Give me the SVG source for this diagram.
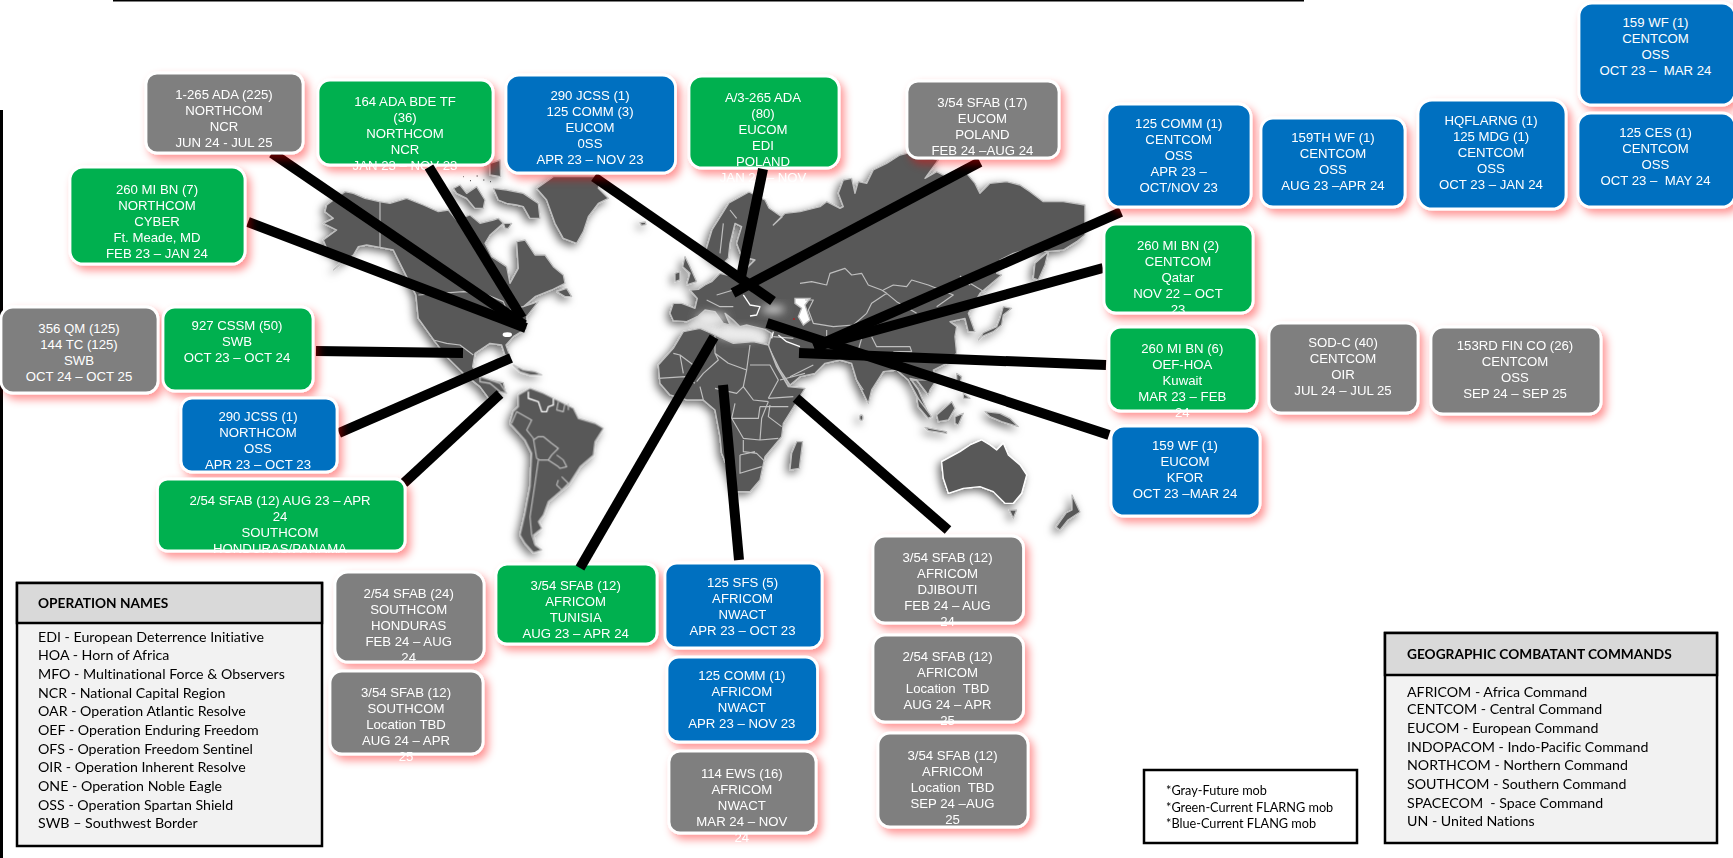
<svg xmlns="http://www.w3.org/2000/svg" width="1733" height="858" viewBox="0 0 1733 858">
<style>
text{font-family:"Liberation Sans",Arial,sans-serif;white-space:pre}
.n rect{stroke:#fff;stroke-width:2.8;filter:url(#pink)}
.g rect{fill:#00b050}.b rect{fill:#0070c0}.y rect{fill:#7f7f7f}
.n text{font-size:13.2px;fill:#fff;text-anchor:middle}
.land{fill:#595959;stroke:#bfbfbf;stroke-width:4;stroke-linejoin:round}
.bd{fill:none;stroke:#bfbfbf;stroke-width:3.5;stroke-linejoin:round}
.wb{fill:none;stroke:#fff;stroke-width:4;stroke-linejoin:round}
.con line{stroke:#000;stroke-width:10}
.panel text{font-family:Lato,"Liberation Sans",sans-serif;font-size:14.2px;fill:#000;font-variant-ligatures:none}
.panel .h{font-weight:700;font-size:13.7px}
.box{stroke:#000;stroke-width:2.5}
</style>
<defs>
<filter id="pink" x="-20%" y="-20%" width="150%" height="160%"><feDropShadow dx="4" dy="5" stdDeviation="4" flood-color="#ff0000" flood-opacity=".42"/></filter>
<filter id="mapsh" x="-5%" y="-5%" width="110%" height="110%"><feDropShadow dx="-3" dy="3" stdDeviation="4" flood-color="#000" flood-opacity=".6"/></filter>
<filter id="soft" x="-50%" y="-100%" width="200%" height="300%"><feGaussianBlur stdDeviation="12"/></filter>
</defs>

<line x1="113" y1="0.5" x2="1304" y2="0.5" stroke="#000" stroke-width="2"/>
<rect x="0" y="110" width="3" height="748" fill="#000"/>

<g id="map">
<g filter="url(#mapsh)">
<g transform="translate(290,160) scale(.3333)">
<path class="land" d="M110,135 L165,95 L190,100 L225,115 L268,125 L300,130 L350,115 L400,135 L445,155 L475,150 L500,180 L540,165 L570,190 L610,180 L625,175 L640,190 L600,225 L585,250 L605,290 L650,320 L660,370 L685,325 L680,245 L705,240 L735,285 L765,285 L790,320 L820,345 L825,370 L785,390 L735,410 L700,440 L745,425 L710,470 L710,505 L670,530 L648,555 L660,590 L645,585 L635,555 L600,550 L555,580 L548,620 L565,650 L600,660 L640,668 L645,690 L620,700 L600,720 L570,680 L520,640 L470,590 L435,545 L385,475 L378,405 L350,350 L310,270 L270,262 L230,255 L205,260 L190,285 L130,330 L160,300 L110,265 L100,240 L140,210 L100,190 L130,175 L105,155 Z"/>
<path class="land" d="M490,85 L510,75 L530,100 L560,80 L585,120 L580,145 L555,145 L530,115 L500,100Z"/>
<path class="land" d="M610,85 L650,90 L700,100 L745,130 L750,175 L720,175 L700,140 L680,135 L650,130 L625,120Z"/>
<path class="land" d="M640,190 L665,190 L655,205 L645,205Z"/>
<path class="land" d="M800,395 L830,385 L845,410 L825,410Z"/>
<path class="land" d="M600,10 L630,0 L632,50 L600,45Z"/>
<path class="land" d="M740,85 L790,50 L930,50 L925,85 L955,115 L925,130 L895,170 L880,215 L860,250 L820,235 L795,190 L770,120 Z"/>
<path class="bd" d="M270,125 L270,262"/>
<path class="bd" d="M385,405 L520,395 L580,400 L640,425 L650,450 L700,440"/>
<path class="bd" d="M430,540 L470,550 L510,555 L550,585"/>
<ellipse cx="652" cy="524" rx="14" ry="7" fill="#fff"/>
<path d="M520,50h2M540,62h3M560,48h3M580,60h3M600,65h3" stroke="#595959" stroke-width="4"/>
</g>
<g transform="translate(480,360) scale(.3333)">
<path class="land" d="M100,15 L130,30 L165,35 L185,45 L150,45 L120,35Z"/>
<path class="land" d="M0,50 L30,60 L60,70 L80,100 L60,95 L30,70 L0,65Z"/>
<path class="land" d="M115,105 L150,85 L190,100 L220,115 L250,130 L280,145 L295,175 L345,190 L370,205 L345,245 L340,285 L300,320 L265,375 L240,395 L205,425 L190,465 L175,485 L185,505 L160,525 L165,555 L185,570 L160,578 L135,550 L120,525 L135,460 L150,380 L155,280 L135,240 L90,190 L100,155 L115,140Z"/>
<path class="wb" d="M145,95 L145,115 L175,125 L185,155 L200,155 L205,140 L220,135 L220,115"/>
<path class="bd" d="M235,125 L230,150 L250,155 L255,130 M265,130 L265,150 M95,190 L110,155 L155,180 L140,210 L160,235 L165,265 L170,295 L180,300 L205,300 L215,285 L235,265 L215,250 L190,230 L175,230 L160,240 M175,300 L165,370 L150,470 L155,525 L165,555 M205,300 L235,320 L240,325 L260,320 L250,300 L230,285 M235,360 L230,375 L245,390 L265,370 L245,350"/>
</g>
<g transform="translate(640,210) scale(.3333)">
<path class="land" d="M100,280 L125,280 L165,295 L172,265 L150,240 L175,238 L195,225 L215,215 L235,195 L240,190 L262,195 L290,195 L320,175 L345,150 L305,140 L290,100 L305,50 L285,40 L270,100 L265,145 L245,165 L225,150 L198,120 L216,60 L267,-21 L327,-54 L375,-30 L387,-6 L426,21 L400,45 L435,10 L480,5 L540,-10 L560,-25 L600,-5 L610,-10 L595,-50 L610,-90 L635,-95 L645,-50 L655,-85 L680,-80 L700,-120 L740,-140 L780,-165 L820,-175 L895,-150 L855,-95 L890,-115 L920,-100 L980,-110 L1005,-80 L1020,-50 L1050,-80 L1100,-85 L1140,-75 L1170,-55 L1210,-25 L1270,-25 L1335,-15 L1335,75 L1310,95 L1270,120 L1220,125 L1190,110 L1120,130 L1080,150 L1070,190 L1085,195 L1020,250 L985,310 L1005,365 L985,365 L975,325 L930,335 L950,350 L945,380 L950,430 L920,460 L880,480 L890,510 L870,540 L865,555 L830,510 L810,505 L835,540 L865,610 L835,565 L805,510 L770,480 L730,485 L695,540 L685,580 L650,510 L635,460 L600,450 L555,460 L525,490 L480,500 L450,525 L420,480 L395,430 L385,410 L395,370 L375,358 L340,350 L320,345 L300,350 L280,330 L255,310 L270,345 L250,340 L225,305 L195,300 L175,318 L140,335 L100,332 L90,310 Z"/>
<path class="land" d="M130,365 L180,355 L225,375 L280,400 L340,395 L385,405 L410,470 L445,530 L495,535 L465,585 L430,640 L425,680 L375,740 L360,810 L330,845 L290,845 L270,790 L245,730 L240,680 L225,600 L190,570 L140,570 L90,555 L60,520 L55,465 L100,415 Z"/>
<path class="land" d="M135,140 L150,170 L170,215 L140,225 L150,190 L128,170Z"/>
<path class="land" d="M105,190 L120,185 L120,210 L105,215Z"/>
<path class="land" d="M470,695 L488,695 L478,775 L450,780 L455,730 Z"/>
<path class="land" d="M0,38 L16,36 L18,44 L4,46Z"/>
<ellipse class="land" cx="664" cy="623" rx="5" ry="8"/>
<path class="land" d="M1180,205 L1185,160 L1225,125 L1215,165 L1195,210Z"/>
<path class="land" d="M1015,390 L1030,368 L1070,350 L1080,325 L1090,290 L1115,295 L1090,315 L1085,345 L1060,365 L1025,380Z"/>
<path class="land" d="M890,615 L935,575 L945,595 L925,630 L895,635Z"/>
<path class="land" d="M830,560 L875,620 L865,625 L835,590Z"/>
<path class="land" d="M855,652 L920,665 L920,670 L865,662Z"/>
<path class="land" d="M945,620 L970,610 L955,645 L945,640Z"/>
<path class="land" d="M1035,605 L1080,610 L1110,625 L1135,650 L1085,635 L1050,620Z"/>
<path class="land" d="M950,490 L965,500 L960,520 L950,510Z"/>
<path class="land" d="M970,550 L990,565 L970,565Z"/>
<path d="M465,265 L510,265 L495,285 L510,330 L490,345 L475,320 L485,295 L465,280Z" fill="#fff" stroke="#bfbfbf" stroke-width="4"/>
<path class="bd" d="M100,430 L120,435 L160,465 M120,435 L130,490 M55,505 L135,500 L165,520 M225,375 L225,430 L265,460 M225,430 L235,450 L190,490 L170,515 M265,460 L320,480 L310,530 L290,550 L225,535 M320,480 L330,405 M330,465 L390,465 L415,510 L385,565 M310,530 L340,570 L385,575 M180,530 L190,570 M285,580 L275,625 L355,625 L360,590 M385,575 L365,625 L360,690 M360,590 L445,590 M390,585 L385,620 L425,650 M275,625 L310,685 L360,690 L415,685 M310,690 L310,725 L350,730 L375,755 M300,735 L300,790 L365,770 M300,735 L345,725 M420,510 L495,490 M385,565 L460,560"/>
<path class="bd" d="M480,220 L515,215 L560,225 L570,190 L615,175 L635,195 L665,190 L685,225 L725,240 L740,250 M730,240 L760,225 L800,230 L815,210 L865,225 L940,255 L890,290 M740,250 L695,280 L680,310 L640,345 L580,350 L520,340 L505,300 L520,270 L495,270 M740,250 L770,275 L830,310 M560,360 L560,385 M665,385 L655,420 M695,380 L710,410 L810,410 L815,425 L760,425 M990,220 L1040,250 M960,198 L990,225"/>
<path class="bd" d="M650,510 L670,540 M810,510 L890,510 M820,495 L880,490 M520,465 L450,500 M400,380 L460,385 M230,255 L280,240 M200,270 L240,290 L280,290 M240,130 L250,40 M290,25 L270,0"/>
<path class="wb" d="M310,255 L330,285 L360,290 L350,315 L330,318 M400,365 L395,385 M415,375 L440,395 L480,410"/>
<ellipse cx="300" cy="372" rx="70" ry="14" fill="#f4f4f4" filter="url(#soft)"/>
<ellipse cx="215" cy="325" rx="45" ry="14" fill="#f4f4f4" filter="url(#soft)"/>
<ellipse cx="400" cy="298" rx="35" ry="10" fill="#e8e8e8" filter="url(#soft)"/>
<rect x="460" y="325" width="4" height="4" fill="#e00000"/>
</g>
<g transform="translate(800,150) scale(.3333)">
<path class="land" style="stroke:#fff" d="M425,935 L480,905 L510,885 L545,870 L570,885 L590,900 L610,880 L625,915 L660,945 L680,975 L665,1030 L640,1060 L615,1060 L580,1025 L540,1010 L490,1015 L445,1030 L430,985Z"/>
<path class="land" d="M628,1080 L650,1080 L640,1105Z"/>
</g>
<path class="land" style="stroke-width:1.3" d="M1072,495 L1080,512 L1068,520 L1060,530 L1056,527 L1066,513 L1072,510Z"/>
</g>
</g>

<g id="n-tunisia" class="n g"><rect x="496" y="564" width="161" height="80" rx="11"/><text y="590"><tspan x="575.7">3/54 SFAB (12)</tspan><tspan x="575.7" dy="16">AFRICOM</tspan><tspan x="575.7" dy="16">TUNISIA</tspan><tspan x="575.7" dy="16">AUG 23 – APR 24</tspan></text></g>
<g id="n-164ada" class="n g"><rect x="318" y="80" width="175" height="85" rx="12"/><text y="106"><tspan x="405">164 ADA BDE TF</tspan><tspan x="405" dy="16">(36)</tspan><tspan x="405" dy="16">NORTHCOM</tspan><tspan x="405" dy="16">NCR</tspan><tspan x="405" dy="16">JAN 23 – NOV 23</tspan></text></g>
<g id="n-a3265" class="n g"><rect x="689" y="76" width="150" height="92" rx="13"/><text y="102"><tspan x="763">A/3-265 ADA</tspan><tspan x="763" dy="16">(80)</tspan><tspan x="763" dy="16">EUCOM</tspan><tspan x="763" dy="16">EDI</tspan><tspan x="763" dy="16">POLAND</tspan><tspan x="763" dy="16">JAN 23 – NOV</tspan><tspan x="763" dy="16">23</tspan></text></g>

<g id="connectors" class="con">
<line x1="272" y1="153" x2="524" y2="325"/>
<line x1="429" y1="167" x2="522" y2="318"/>
<line x1="248" y1="222" x2="526" y2="328"/>
<line x1="316" y1="351" x2="463" y2="353"/>
<line x1="339" y1="433" x2="511" y2="358"/>
<line x1="404" y1="483" x2="500" y2="394"/>
<line x1="594" y1="177" x2="773" y2="301"/>
<line x1="763" y1="169" x2="741" y2="277"/>
<line x1="980" y1="162" x2="733" y2="293"/>
<line x1="1121" y1="212" x2="814" y2="347"/>
<line x1="1103" y1="268" x2="814" y2="347"/>
<line x1="1106" y1="365" x2="799" y2="353"/>
<line x1="1109" y1="435" x2="767" y2="323"/>
<line x1="580" y1="568" x2="714" y2="337"/>
<line x1="739" y1="560" x2="723" y2="385"/>
<line x1="948" y1="530" x2="796" y2="398"/>
</g>

<g id="n-1265ada" class="n y"><rect x="146" y="73" width="157" height="80" rx="11"/><text y="99"><tspan x="224">1-265 ADA (225)</tspan><tspan x="224" dy="16">NORTHCOM</tspan><tspan x="224" dy="16">NCR</tspan><tspan x="224" dy="16">JUN 24 - JUL 25</tspan></text></g>
<g id="n-260mi7" class="n g"><rect x="70" y="167" width="175" height="97" rx="13"/><text y="194"><tspan x="157">260 MI BN (7)</tspan><tspan x="157" dy="16">NORTHCOM</tspan><tspan x="157" dy="16">CYBER</tspan><tspan x="157" dy="16">Ft. Meade, MD</tspan><tspan x="157" dy="16">FEB 23 – JAN 24</tspan></text></g>
<g id="n-356qm" class="n y"><rect x="1" y="307" width="157" height="86" rx="12"/><text y="333"><tspan x="79">356 QM (125)</tspan><tspan x="79" dy="16">144 TC (125)</tspan><tspan x="79" dy="16">SWB</tspan><tspan x="79" dy="16">OCT 24 – OCT 25</tspan></text></g>
<g id="n-927cssm" class="n g"><rect x="163" y="307" width="150" height="84" rx="12"/><text y="330"><tspan x="237">927 CSSM (50)</tspan><tspan x="237" dy="16">SWB</tspan><tspan x="237" dy="16">OCT 23 – OCT 24</tspan></text></g>
<g id="n-290north" class="n b"><rect x="181" y="398" width="156" height="74" rx="11"/><text y="421"><tspan x="258">290 JCSS (1)</tspan><tspan x="258" dy="16">NORTHCOM</tspan><tspan x="258" dy="16">OSS</tspan><tspan x="258" dy="16">APR 23 – OCT 23</tspan></text></g>
<g id="n-254south" class="n g"><rect x="157.500" y="479" width="247.500" height="72" rx="10"/><text y="505"><tspan x="280">2/54 SFAB (12) AUG 23 – APR</tspan><tspan x="280" dy="16">24</tspan><tspan x="280" dy="16">SOUTHCOM</tspan><tspan x="280" dy="16">HONDURAS/PANAMA</tspan></text></g>
<g id="n-290eu" class="n b"><rect x="506" y="75" width="169.500" height="98" rx="13"/><text y="100"><tspan x="590">290 JCSS (1)</tspan><tspan x="590" dy="16">125 COMM (3)</tspan><tspan x="590" dy="16">EUCOM</tspan><tspan x="590" dy="16">0SS</tspan><tspan x="590" dy="16">APR 23 – NOV 23</tspan></text></g>
<g id="n-354poland" class="n y"><rect x="907" y="81" width="152" height="77" rx="11"/><text y="107"><tspan x="982.400">3/54 SFAB (17)</tspan><tspan x="982.400" dy="16">EUCOM</tspan><tspan x="982.400" dy="16">POLAND</tspan><tspan x="982.400" dy="16">FEB 24 –AUG 24</tspan></text></g>
<g id="n-159cent" class="n b"><rect x="1579" y="3" width="156" height="102" rx="13"/><text y="27"><tspan x="1655.500">159 WF (1)</tspan><tspan x="1655.500" dy="16">CENTCOM</tspan><tspan x="1655.500" dy="16">OSS</tspan><tspan x="1655.500" dy="16">OCT 23 –  MAR 24</tspan></text></g>
<g id="n-125comm" class="n b"><rect x="1107" y="104" width="144" height="103" rx="13"/><text y="128"><tspan x="1178.700">125 COMM (1)</tspan><tspan x="1178.700" dy="16">CENTCOM</tspan><tspan x="1178.700" dy="16">OSS</tspan><tspan x="1178.700" dy="16">APR 23 –</tspan><tspan x="1178.700" dy="16">OCT/NOV 23</tspan></text></g>
<g id="n-159th" class="n b"><rect x="1261" y="118" width="144" height="89" rx="12"/><text y="142"><tspan x="1333">159TH WF (1)</tspan><tspan x="1333" dy="16">CENTCOM</tspan><tspan x="1333" dy="16">OSS</tspan><tspan x="1333" dy="16">AUG 23 –APR 24</tspan></text></g>
<g id="n-hqflarng" class="n b"><rect x="1418" y="100" width="148" height="109" rx="14"/><text y="125"><tspan x="1491">HQFLARNG (1)</tspan><tspan x="1491" dy="16">125 MDG (1)</tspan><tspan x="1491" dy="16">CENTCOM</tspan><tspan x="1491" dy="16">OSS</tspan><tspan x="1491" dy="16">OCT 23 – JAN 24</tspan></text></g>
<g id="n-125ces" class="n b"><rect x="1578" y="113" width="157" height="94" rx="13"/><text y="137"><tspan x="1655.500">125 CES (1)</tspan><tspan x="1655.500" dy="16">CENTCOM</tspan><tspan x="1655.500" dy="16">OSS</tspan><tspan x="1655.500" dy="16">OCT 23 –  MAY 24</tspan></text></g>
<g id="n-260q" class="n g"><rect x="1104" y="224" width="149" height="89" rx="12"/><text y="250"><tspan x="1178">260 MI BN (2)</tspan><tspan x="1178" dy="16">CENTCOM</tspan><tspan x="1178" dy="16">Qatar</tspan><tspan x="1178" dy="16">NOV 22 – OCT</tspan><tspan x="1178" dy="16">23</tspan></text></g>
<g id="n-260k" class="n g"><rect x="1109" y="327" width="148" height="84" rx="12"/><text y="353"><tspan x="1182.300">260 MI BN (6)</tspan><tspan x="1182.300" dy="16">OEF-HOA</tspan><tspan x="1182.300" dy="16">Kuwait</tspan><tspan x="1182.300" dy="16">MAR 23 – FEB</tspan><tspan x="1182.300" dy="16">24</tspan></text></g>
<g id="n-sodc" class="n y"><rect x="1269" y="323" width="149" height="90" rx="12"/><text y="347"><tspan x="1343">SOD-C (40)</tspan><tspan x="1343" dy="16">CENTCOM</tspan><tspan x="1343" dy="16">OIR</tspan><tspan x="1343" dy="16">JUL 24 – JUL 25</tspan></text></g>
<g id="n-153fin" class="n y"><rect x="1431" y="327" width="170" height="87" rx="12"/><text y="350"><tspan x="1515">153RD FIN CO (26)</tspan><tspan x="1515" dy="16">CENTCOM</tspan><tspan x="1515" dy="16">OSS</tspan><tspan x="1515" dy="16">SEP 24 – SEP 25</tspan></text></g>
<g id="n-159eu" class="n b"><rect x="1111" y="426" width="149" height="90" rx="13"/><text y="450"><tspan x="1185">159 WF (1)</tspan><tspan x="1185" dy="16">EUCOM</tspan><tspan x="1185" dy="16">KFOR</tspan><tspan x="1185" dy="16">OCT 23 –MAR 24</tspan></text></g>
<g id="n-254hond" class="n y"><rect x="335" y="572" width="149" height="90" rx="13"/><text y="598"><tspan x="408.700">2/54 SFAB (24)</tspan><tspan x="408.700" dy="16">SOUTHCOM</tspan><tspan x="408.700" dy="16">HONDURAS</tspan><tspan x="408.700" dy="16">FEB 24 – AUG</tspan><tspan x="408.700" dy="16">24</tspan></text></g>
<g id="n-354south" class="n y"><rect x="330" y="671" width="153" height="83" rx="12"/><text y="697"><tspan x="406">3/54 SFAB (12)</tspan><tspan x="406" dy="16">SOUTHCOM</tspan><tspan x="406" dy="16">Location TBD</tspan><tspan x="406" dy="16">AUG 24 – APR</tspan><tspan x="406" dy="16">25</tspan></text></g>
<g id="n-125sfs" class="n b"><rect x="665" y="563" width="157" height="85" rx="12"/><text y="587"><tspan x="742.500">125 SFS (5)</tspan><tspan x="742.500" dy="16">AFRICOM</tspan><tspan x="742.500" dy="16">NWACT</tspan><tspan x="742.500" dy="16">APR 23 – OCT 23</tspan></text></g>
<g id="n-125af" class="n b"><rect x="667" y="657" width="150.500" height="85" rx="12"/><text y="680"><tspan x="741.800">125 COMM (1)</tspan><tspan x="741.800" dy="16">AFRICOM</tspan><tspan x="741.800" dy="16">NWACT</tspan><tspan x="741.800" dy="16">APR 23 – NOV 23</tspan></text></g>
<g id="n-114ews" class="n y"><rect x="669" y="751" width="147" height="82" rx="11"/><text y="778"><tspan x="741.800">114 EWS (16)</tspan><tspan x="741.800" dy="16">AFRICOM</tspan><tspan x="741.800" dy="16">NWACT</tspan><tspan x="741.800" dy="16">MAR 24 – NOV</tspan><tspan x="741.800" dy="16">24</tspan></text></g>
<g id="n-djib" class="n y"><rect x="873" y="536" width="150.500" height="87" rx="12"/><text y="562"><tspan x="947.500">3/54 SFAB (12)</tspan><tspan x="947.500" dy="16">AFRICOM</tspan><tspan x="947.500" dy="16">DJIBOUTI</tspan><tspan x="947.500" dy="16">FEB 24 – AUG</tspan><tspan x="947.500" dy="16">24</tspan></text></g>
<g id="n-254af" class="n y"><rect x="873" y="635" width="150.500" height="87" rx="12"/><text y="660.700"><tspan x="947.500">2/54 SFAB (12)</tspan><tspan x="947.500" dy="16">AFRICOM</tspan><tspan x="947.500" dy="16">Location  TBD</tspan><tspan x="947.500" dy="16">AUG 24 – APR</tspan><tspan x="947.500" dy="16">25</tspan></text></g>
<g id="n-354af" class="n y"><rect x="878" y="733" width="150" height="94" rx="12"/><text y="760"><tspan x="952.500">3/54 SFAB (12)</tspan><tspan x="952.500" dy="16">AFRICOM</tspan><tspan x="952.500" dy="16">Location  TBD</tspan><tspan x="952.500" dy="16">SEP 24 –AUG</tspan><tspan x="952.500" dy="16">25</tspan></text></g>

<g id="operation-names" class="panel">
<rect class="box" x="17" y="583" width="305" height="263" fill="#f2f2f2"/>
<rect class="box" x="17" y="583" width="305" height="40" fill="#d9d9d9"/>
<text class="h" x="38" y="608">OPERATION NAMES</text>
<text x="38" y="642">EDI - European Deterrence Initiative</text>
<text x="38" y="660">HOA - Horn of Africa</text>
<text x="38" y="679">MFO - Multinational Force &amp; Observers</text>
<text x="38" y="698">NCR - National Capital Region</text>
<text x="38" y="716">OAR - Operation Atlantic Resolve</text>
<text x="38" y="735">OEF - Operation Enduring Freedom</text>
<text x="38" y="754">OFS - Operation Freedom Sentinel</text>
<text x="38" y="772">OIR - Operation Inherent Resolve</text>
<text x="38" y="791">ONE - Operation Noble Eagle</text>
<text x="38" y="810">OSS - Operation Spartan Shield</text>
<text x="38" y="828">SWB – Southwest Border</text>
</g>
<g id="geographic-commands" class="panel">
<rect class="box" x="1385" y="633" width="332" height="210" fill="#f2f2f2"/>
<rect class="box" x="1385" y="633" width="332" height="42" fill="#d9d9d9"/>
<text class="h" x="1407" y="659">GEOGRAPHIC COMBATANT COMMANDS</text>
<text x="1407" y="696.500">AFRICOM - Africa Command</text>
<text x="1407" y="714">CENTCOM - Central Command</text>
<text x="1407" y="733">EUCOM - European Command</text>
<text x="1407" y="752">INDOPACOM - Indo-Pacific Command</text>
<text x="1407" y="770">NORTHCOM - Northern Command</text>
<text x="1407" y="789">SOUTHCOM - Southern Command</text>
<text x="1407" y="808">SPACECOM  - Space Command</text>
<text x="1407" y="826">UN - United Nations</text>
</g>
<g id="legend" class="panel">
<rect class="box" x="1144" y="770" width="213" height="73" fill="#fff"/>
<text x="1166" y="794.500" style="font-size:12.700px">*Gray-Future mob</text>
<text x="1166" y="812" style="font-size:12.700px">*Green-Current FLARNG mob</text>
<text x="1166" y="828" style="font-size:12.700px">*Blue-Current FLANG mob</text>
</g>
</svg>
